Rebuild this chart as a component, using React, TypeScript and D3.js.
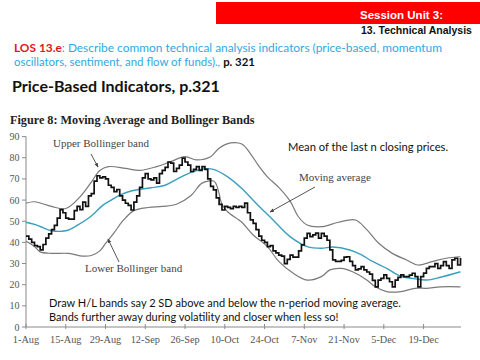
import React from 'react';
import * as d3 from 'd3';

// Daily closing prices from 1-Aug (index = day offset)
const priceClose = [
  43, 41.5, 40, 38.5, 38, 36.5, 39, 42, 44, 46,
  48, 51.5, 55.5, 54, 51.5, 51, 51, 55, 57, 55.5,
  59, 57, 62, 63, 69, 71.5, 70.5, 71, 70, 67,
  66, 64, 65, 62, 60, 58.5, 57.5, 55.3, 59, 62,
  66, 70.5, 72.5, 70, 69.5, 70.5, 68, 72.5, 74, 75.5,
  78, 77.5, 73.5, 75, 76.5, 79.8, 78, 76.5, 73.5, 74.5,
  75.8, 74, 75.8, 74.5, 70, 66.5, 64.8, 61, 58, 55.3,
  57, 56.5, 56, 57, 56.5, 57, 56.5, 58.6, 54, 50.6,
  49, 46, 43, 41, 40, 38, 38.5, 36, 35, 34,
  33.5, 30, 32, 34, 33, 33, 36, 38.8, 42, 44.3,
  42.7, 43.5, 44.4, 42, 44.3, 43, 41, 36.5, 31.7, 31,
  31, 31.5, 33, 33.2, 31, 29, 27, 27.5, 28.5, 27,
  26, 25, 22, 19, 22.2, 23, 24.6, 23, 21.4, 19,
  22.2, 23.5, 24.6, 23.8, 23.8, 24.5, 25.4, 23.8, 19, 23.8,
  25.5, 27.7, 28.5, 28.5, 30, 27.7, 29, 30.9, 29, 27.7,
  31.7, 32.5, 29.3, 32.6,
];

// [day offset, value]
const movingAverage: [number, number][] = [
  [0, 49.5], [3, 48.5], [5, 47.5], [9, 45.5], [14, 45.5], [16, 46.5], [18, 48],
  [23, 52.5], [27, 57.5], [30, 60], [33, 62.3], [37, 64.3], [44, 65.8], [49, 67],
  [53, 69.8], [58, 73], [63, 74.8], [66, 74.5], [71, 71], [76, 65.5], [81, 58.5],
  [87, 50.6], [93, 42.7], [99, 38], [104, 37.2], [108, 37.8], [114, 36.4], [118, 34.2],
  [122, 31], [127, 27.7], [132, 24], [136, 23], [141, 22.2], [146, 23.5], [153, 26.1],
];

const upperBand: [number, number][] = [
  [0, 58.5], [3, 59.2], [9, 57], [14, 56], [19, 61.5], [23, 68.5], [26, 74], [29, 75.8],
  [35, 75], [40, 74], [46, 75.8], [51, 78.2], [56, 80.5], [60, 79], [65, 80.5], [68, 84.5],
  [72, 87], [76, 86.5], [79, 82], [82, 76], [85, 71], [89, 66], [93, 59.5], [96, 52],
  [99, 48.2], [104, 47.4], [110, 49.5], [116, 50.6], [120, 46], [124, 39.8], [129, 34.8],
  [134, 31.7], [138, 29.3], [143, 30.9], [148, 32.5], [153, 33.2],
];

const lowerBand: [number, number][] = [
  [0, 40.5], [3, 38], [5, 35.5], [9, 34.8], [15, 34.8], [20, 33.5], [23, 33.8], [26, 36],
  [28, 39.5], [31, 44.5], [34, 50], [38, 55], [43, 56.5], [48, 57], [53, 58], [58, 62],
  [62, 68], [66, 69], [67, 67.5], [68, 63], [69, 58], [71, 54.5], [76, 49.5], [80, 43.5],
  [85, 38], [89, 31], [94, 25.5], [99, 22.2], [104, 23.8], [107, 27], [111, 27.7],
  [115, 26.1], [120, 22.2], [123, 19], [127, 16.7], [132, 16.7], [137, 18.3], [141, 18.3],
  [146, 19], [153, 19],
];

const yTicks = [0, 10, 20, 30, 40, 50, 60, 70, 80, 90];
const xTickLabels = ['1-Aug', '15-Aug', '29-Aug', '12-Sep', '26-Sep', '10-Oct', '24-Oct', '7-Nov', '21-Nov', '5-Dec', '19-Dec'];
const xTickDays = [0, 14, 28, 42, 56, 70, 84, 98, 112, 126, 140];

const dayToDate = (d: number) => new Date(2011, 7, 1 + d);

export default function App() {
  const x = d3.scaleTime().domain([dayToDate(0), dayToDate(153)]).range([26, 460.5]);
  const y = d3.scaleLinear().domain([0, 90]).range([327, 136.6]);

  const priceLine = d3.line<number>()
    .x((_, i) => x(dayToDate(i)))
    .y((v) => y(v))
    .curve(d3.curveStepAfter);

  const smooth = d3.line<[number, number]>()
    .x((d) => x(dayToDate(d[0])))
    .y((d) => y(d[1]))
    .curve(d3.curveCatmullRom.alpha(0.5));

  const serif = '"Liberation Serif", "DejaVu Serif", serif';
  const sans = 'Lato, "Open Sans", sans-serif';
  const arial = '"Liberation Sans", Arial, sans-serif';
  const axisColor = '#8a8a8a';
  const labelColor = '#555';

  return (
    <svg width={480} height={360} style={{ position: 'absolute', left: 0, top: 0, background: '#fff' }}>
      <defs>
        <marker id="arr" viewBox="0 0 10 10" refX="9" refY="5" markerWidth="5" markerHeight="5" orient="auto">
          <path d="M0,1 L10,5 L0,9 z" fill="#444" />
        </marker>
      </defs>

      {/* header bar */}
      <rect x={216} y={2} width={264} height={22} fill="#ff0000" />
      <text x={360} y={19} fill="#fff" fontFamily={arial} fontWeight="bold" fontSize={11.5}>Session Unit 3:</text>
      <text x={361} y={34} fill="#111" fontFamily={arial} fontWeight="bold" fontSize={10.5}>13. Technical Analysis</text>

      <text x={14} y={52} fontFamily={sans} fontSize={11.9}>
        <tspan fill="#e3141e" fontWeight="bold">LOS 13.e</tspan>
        <tspan fill="#2fa9e1">: Describe common technical analysis indicators (price-based, momentum</tspan>
      </text>
      <text x={14} y={65.5} fontFamily={sans} fontSize={11.4}>
        <tspan fill="#2fa9e1">oscillators, sentiment, and flow of funds)., </tspan>
        <tspan fill="#111" fontWeight="bold">p. 321</tspan>
      </text>

      <text x={12} y={92} fontFamily={sans} fontWeight="bold" fontSize={16} fill="#111">Price-Based Indicators, p.321</text>

      <text x={10} y={124} fontFamily={serif} fontWeight="bold" fontSize={12.2} fill="#222">Figure 8: Moving Average and Bollinger Bands</text>

      {/* axes */}
      <line x1={26} x2={26} y1={y(90)} y2={y(0)} stroke={axisColor} strokeWidth={1} />
      <line x1={26} x2={461} y1={y(0)} y2={y(0)} stroke={axisColor} strokeWidth={1} />
      {yTicks.map((t) => (
        <g key={t}>
          <line x1={22} x2={26} y1={y(t)} y2={y(t)} stroke={axisColor} />
          <text x={19.5} y={y(t)} dy="0.35em" textAnchor="end" fontFamily={serif} fontSize={10} fill={labelColor}>{t}</text>
        </g>
      ))}
      {xTickDays.map((d, i) => (
        <g key={d}>
          <line x1={x(dayToDate(d))} x2={x(dayToDate(d))} y1={y(0) - 3} y2={y(0) + 2} stroke={axisColor} />
          <text x={x(dayToDate(d))} y={343} textAnchor="middle" fontFamily={serif} fontSize={10.3} fill={labelColor}>{xTickLabels[i]}</text>
        </g>
      ))}

      {/* bands and lines */}
      <path d={smooth(upperBand) || ''} fill="none" stroke="#7a7a7a" strokeWidth={1.2} />
      <path d={smooth(lowerBand) || ''} fill="none" stroke="#7a7a7a" strokeWidth={1.2} />
      <path d={smooth(movingAverage) || ''} fill="none" stroke="#3a9fbf" strokeWidth={1.4} />
      <path d={priceLine(priceClose) || ''} fill="none" stroke="#111" strokeWidth={1.7} strokeLinejoin="miter" />

      {/* annotations */}
      <text x={53} y={147} fontFamily={serif} fontSize={11} fill="#444">Upper Bollinger band</text>
      <line x1={91} y1={154} x2={98} y2={167} stroke="#444" strokeWidth={0.9} markerEnd="url(#arr)" />

      <text x={299} y={181} fontFamily={serif} fontSize={11} fill="#444">Moving average</text>
      <line x1={315} y1={187} x2={270} y2={212} stroke="#444" strokeWidth={0.9} markerEnd="url(#arr)" />

      <text x={85} y={272} fontFamily={serif} fontSize={11} fill="#444">Lower Bollinger band</text>
      <line x1={119} y1={262} x2={108} y2={239} stroke="#444" strokeWidth={0.9} markerEnd="url(#arr)" />

      <text x={288} y={151} fontFamily={sans} fontSize={11.2} fill="#111">Mean of the last n closing prices.</text>

      <text x={49} y={307} fontFamily={sans} fontSize={11} fill="#111">Draw H/L bands say 2 SD above and below the n-period moving average.</text>
      <text x={49} y={321} fontFamily={sans} fontSize={11} fill="#111">Bands further away during volatility and closer when less so!</text>
    </svg>
  );
}
